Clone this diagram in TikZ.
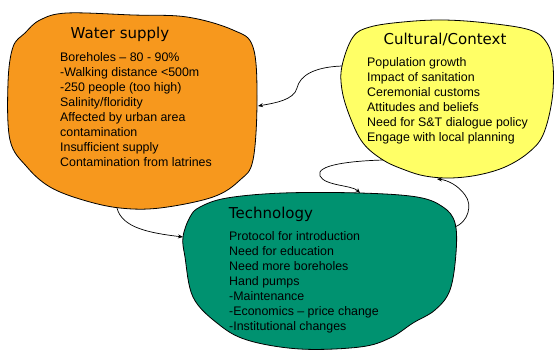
\documentclass[tikz,border=0pt]{standalone}
\usepackage{fontspec}
\setmainfont{Liberation Sans}
\newfontfamily\titlefont{DejaVu Sans}
\usetikzlibrary{arrows.meta}
\definecolor{blobor}{RGB}{247,152,29}
\definecolor{blobye}{RGB}{255,255,102}
\definecolor{blobgr}{RGB}{0,146,112}
\tikzset{
  blob/.style={draw=black,line width=0.8pt},
  blobtitle/.style={anchor=base,inner sep=0pt,font=\titlefont\fontsize{15}{18}\selectfont},
  blobtext/.style={anchor=north west,inner sep=0pt,align=left,font=\fontsize{12.4}{15.1}\selectfont},
  conn/.style={draw=black,line width=0.7pt,-{Stealth[length=5pt,width=4pt]}}
}
\begin{document}
\begin{tikzpicture}[x=1pt,y=-1pt]
\useasboundingbox (0,0) rectangle (554,351);
% Water supply blob
\draw[blob,fill=blobor] plot[smooth cycle,tension=0.6] coordinates {
 (25,33) (40,20) (67,13) (133,15) (187,17) (233,30) (253,47) (257,100)
 (253,160) (240,180) (213,197) (160,208) (120,208) (83,200) (50,187)
 (27,167) (10,140) (8,83) (13,47)};
% Cultural blob
\draw[blob,fill=blobye] plot[smooth cycle,tension=0.6] coordinates {
 (342,66) (353,37) (370,27) (403,22) (443,20) (487,23) (530,30) (547,43)
 (553,65) (552,100) (543,135) (528,153) (505,167) (478,175) (450,178)
 (425,176) (405,170) (383,160) (363,143) (350,117) (342,90)};
% Technology blob
\draw[blob,fill=blobgr] plot[smooth cycle,tension=0.6] coordinates {
 (200,207) (227,198) (283,193) (360,193) (417,197) (443,207) (455,223)
 (456,253) (450,290) (435,310) (413,323) (390,338) (360,347) (300,349)
 (247,340) (217,323) (193,297) (185,257) (183,237) (190,217)};
% connector end points
\coordinate (c1) at (342,66);
\coordinate (w1) at (258,106);
\coordinate (w2) at (117,208);
\coordinate (t1) at (183,237);
\coordinate (c2) at (383,160);
\coordinate (t2) at (360,193);
\coordinate (t3) at (455,227);
\coordinate (c3) at (437,179);
% texts
\node[blobtitle] (wt) at (120,38) {Water supply};
\node[blobtext] (wx) at (60,52) {Boreholes -- 80 - 90\%\\-Walking distance <500m\\-250 people (too high)\\Salinity/floridity\\Affected by urban area\\contamination\\Insufficient supply\\Contamination from latrines};
\node[blobtitle] (ct) at (445,44) {Cultural/Context};
\node[blobtext] (cx) at (367,57) {Population growth\\Impact of sanitation\\Ceremonial customs\\Attitudes and beliefs\\Need for S\&T dialogue policy\\Engage with local planning};
\node[blobtitle] (tt) at (271,218) {Technology};
\node[blobtext] (tx) at (229,231) {Protocol for introduction\\Need for education\\Need more boreholes\\Hand pumps\\-Maintenance\\-Economics -- price change\\-Institutional changes};
% connectors
\draw[conn] (c1) .. controls (315,67) and (300,75) .. (297,88) .. controls (294,100) and (275,103) .. (w1);
\draw[conn] (w2) .. controls (122,228) and (150,233) .. (t1);
\draw[conn] (c2) .. controls (350,161) and (315,165) .. (320,176) .. controls (325,186) and (352,185) .. (t2);
\draw[conn] (t3) .. controls (468,222) and (473,205) .. (465,195) .. controls (458,185) and (447,180) .. (c3);
\end{tikzpicture}
\end{document}
